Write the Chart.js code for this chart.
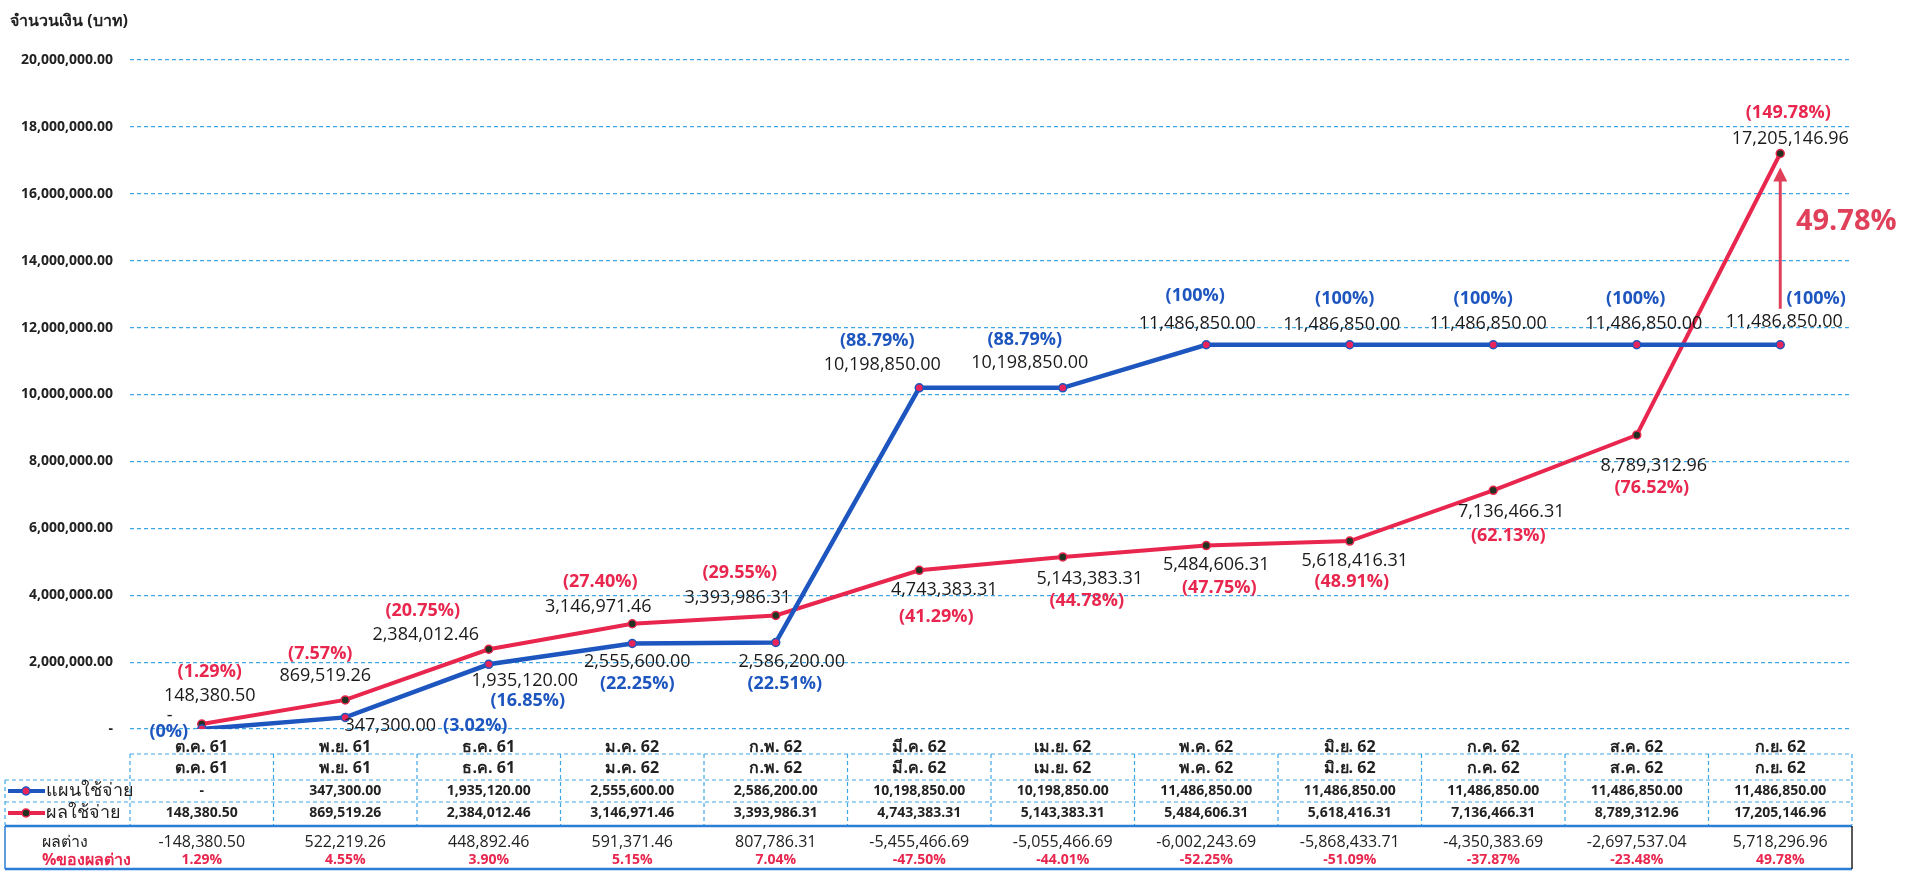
<!DOCTYPE html>
<html>
<head>
<meta charset="utf-8">
<script src="https://cdn.jsdelivr.net/npm/chart.js@4.4.1/dist/chart.umd.min.js"></script>
<style>
html,body{margin:0;padding:0;background:#fff;}
#wrap{width:1914px;height:879px;position:relative;}
</style>
</head>
<body>
<div id="wrap"><canvas id="c" width="1914" height="879"></canvas></div>
<script>
// ---------- data ----------
const categories = ['ต.ค. 61','พ.ย. 61','ธ.ค. 61','ม.ค. 62','ก.พ. 62','มี.ค. 62','เม.ย. 62','พ.ค. 62','มิ.ย. 62','ก.ค. 62','ส.ค. 62','ก.ย. 62'];
const planValues = [0, 347300.00, 1935120.00, 2555600.00, 2586200.00, 10198850.00, 10198850.00, 11486850.00, 11486850.00, 11486850.00, 11486850.00, 11486850.00];
const actualValues = [148380.50, 869519.26, 2384012.46, 3146971.46, 3393986.31, 4743383.31, 5143383.31, 5484606.31, 5618416.31, 7136466.31, 8789312.96, 17205146.96];
const planPctLabels = ['(0%)','(3.02%)','(16.85%)','(22.25%)','(22.51%)','(88.79%)','(88.79%)','(100%)','(100%)','(100%)','(100%)','(100%)'];
const actualPctLabels = ['(1.29%)','(7.57%)','(20.75%)','(27.40%)','(29.55%)','(41.29%)','(44.78%)','(47.75%)','(48.91%)','(62.13%)','(76.52%)','(149.78%)'];
const diffValues = [-148380.50, 522219.26, 448892.46, 591371.46, 807786.31, -5455466.69, -5055466.69, -6002243.69, -5868433.71, -4350383.69, -2697537.04, 5718296.96];
const diffPctLabels = ['1.29%','4.55%','3.90%','5.15%','7.04%','-47.50%','-44.01%','-52.25%','-51.09%','-37.87%','-23.48%','49.78%'];
const yTicks = [0, 2000000, 4000000, 6000000, 8000000, 10000000, 12000000, 14000000, 16000000, 18000000, 20000000];
const seriesNames = ['แผนใช้จ่าย','ผลใช้จ่าย'];
const rowLabels = ['ผลต่าง','%ของผลต่าง'];
const axisTitle = 'จำนวนเงิน (บาท)';

// ---------- label placement (pixel offsets from each point) ----------
const planValOff = [[-32,-13],[45,8],[36,17],[5,18],[16,19],[-37,-23],[-33,-25],[-9,-21],[-8,-20],[-5,-21],[7,-21],[4,-23]];
const planPctOff = [[-33,3],[130,8],[39,37],[5,40],[9,41],[-42,-47],[-38,-48],[-11,-49],[-5,-46],[-10,-46],[-1,-46],[36,-46]];
const actValOff = [[8,-28],[-20,-24],[-63,-14],[-34,-17],[-38,-18],[25,20],[27,22],[10,19],[5,20],[18,22],[17,31],[10,-15]];
const actPctOff = [[8,-52],[-25,-46],[-66,-38],[-32,-42],[-36,-43],[17,47],[24,44],[13,42],[2,41],[15,46],[15,53],[8,-41]];

const FONT = '"Open Sans","Noto Sans",sans-serif';
const BLUE = '#1E56C0';
const RED = '#E8264E';
const GRID = '#3FA6E6';

function fmt(v){
  if (v === 0) return '-';
  return v.toLocaleString('en-US',{minimumFractionDigits:2, maximumFractionDigits:2});
}

const drawPlugin = {
  id:'extras',
  beforeDraw(chart){
    const ctx = chart.ctx;
    ctx.save();
    ctx.fillStyle = '#fff';
    ctx.fillRect(0,0,chart.width,chart.height);
    ctx.restore();
  },
  afterDatasetsDraw(chart){
    const ctx = chart.ctx;
    const xs = chart.scales.x, ys = chart.scales.y;
    const ca = chart.chartArea;
    ctx.save();
    ctx.textAlign = 'center';
    ctx.textBaseline = 'middle';

    // axis title
    ctx.font = 'bold 16px ' + FONT;
    ctx.fillStyle = '#222';
    ctx.textAlign = 'left';
    ctx.fillText(axisTitle, 10, 21);
    ctx.textAlign = 'center';

    // data labels
    for (let i = 0; i < categories.length; i++){
      const px = xs.getPixelForValue(i);
      const pyP = ys.getPixelForValue(planValues[i]);
      const pyA = ys.getPixelForValue(actualValues[i]);
      ctx.font = '18px ' + FONT;
      ctx.fillStyle = '#1a1a1a';
      ctx.fillText(fmt(planValues[i]), px + planValOff[i][0], pyP + planValOff[i][1]);
      ctx.fillText(fmt(actualValues[i]), px + actValOff[i][0], pyA + actValOff[i][1]);
      ctx.font = 'bold 18px ' + FONT;
      ctx.fillStyle = BLUE;
      ctx.fillText(planPctLabels[i], px + planPctOff[i][0], pyP + planPctOff[i][1]);
      ctx.fillStyle = RED;
      ctx.fillText(actualPctLabels[i], px + actPctOff[i][0], pyA + actPctOff[i][1]);
    }

    // arrow on last category
    const li = categories.length - 1;
    const ax = xs.getPixelForValue(li);
    const yFrom = ys.getPixelForValue(planValues[li]) - 36;
    const yTo = ys.getPixelForValue(actualValues[li]) + 14;
    ctx.strokeStyle = '#E0405A';
    ctx.fillStyle = '#E0405A';
    ctx.lineWidth = 3;
    ctx.beginPath();
    ctx.moveTo(ax, yFrom);
    ctx.lineTo(ax, yTo + 12);
    ctx.stroke();
    ctx.beginPath();
    ctx.moveTo(ax, yTo);
    ctx.lineTo(ax - 7, yTo + 14);
    ctx.lineTo(ax + 7, yTo + 14);
    ctx.closePath();
    ctx.fill();
    ctx.font = 'bold 29px ' + FONT;
    ctx.fillText(diffPctLabels[li], ax + 66, (yFrom + yTo) / 2 - 16);

    // ---------- data table ----------
    const colW = xs.width / categories.length;
    const b = ca.bottom;
    const left = 5, right = ca.right;
    ctx.setLineDash([4,3]);
    ctx.strokeStyle = GRID;
    ctx.lineWidth = 1.2;
    const hl = (y, x0) => { ctx.beginPath(); ctx.moveTo(x0, y); ctx.lineTo(right, y); ctx.stroke(); };
    hl(b + 25, ca.left);
    hl(b + 51, left);
    hl(b + 73, left);
    for (let i = 0; i <= categories.length; i++){
      const x = ca.left + i * colW;
      ctx.beginPath(); ctx.moveTo(x, b + 25); ctx.lineTo(x, b + 96); ctx.stroke();
    }
    ctx.beginPath(); ctx.moveTo(left, b + 51); ctx.lineTo(left, b + 96); ctx.stroke();
    ctx.setLineDash([]);
    // box
    ctx.lineWidth = 2.5;
    ctx.strokeStyle = '#2B7ED6';
    ctx.beginPath(); ctx.moveTo(left, b + 97); ctx.lineTo(right, b + 97); ctx.stroke();
    ctx.beginPath(); ctx.moveTo(left, b + 140); ctx.lineTo(right, b + 140); ctx.stroke();
    ctx.lineWidth = 1.5;
    ctx.beginPath(); ctx.moveTo(left, b + 97); ctx.lineTo(left, b + 140); ctx.stroke();
    ctx.strokeStyle = '#222';
    ctx.beginPath(); ctx.moveTo(right, b + 97); ctx.lineTo(right, b + 140); ctx.stroke();

    // header + values
    for (let i = 0; i < categories.length; i++){
      const cx = xs.getPixelForValue(i);
      ctx.fillStyle = '#222';
      ctx.font = 'bold 16px ' + FONT;
      ctx.fillText(categories[i], cx, b + 39);
      ctx.font = 'bold 14px ' + FONT;
      ctx.fillText(fmt(planValues[i]), cx, b + 62);
      ctx.fillText(fmt(actualValues[i]), cx, b + 84);
      ctx.font = '16px ' + FONT;
      ctx.fillText(fmt(diffValues[i]), cx, b + 113);
      ctx.font = 'bold 14px ' + FONT;
      ctx.fillStyle = RED;
      ctx.fillText(diffPctLabels[i], cx, b + 131);
    }

    // legend keys
    const keys = [[BLUE, '#E8245A', b + 62], [RED, '#233323', b + 84]];
    keys.forEach((k, j) => {
      ctx.strokeStyle = k[0];
      ctx.lineWidth = 4;
      ctx.beginPath(); ctx.moveTo(8, k[2]); ctx.lineTo(45, k[2]); ctx.stroke();
      ctx.beginPath(); ctx.arc(26, k[2], 4, 0, Math.PI * 2);
      ctx.fillStyle = k[1]; ctx.fill();
      ctx.lineWidth = 1.5; ctx.stroke();
      ctx.fillStyle = '#222';
      ctx.font = '18px ' + FONT;
      ctx.textAlign = 'left';
      ctx.fillText(seriesNames[j], 46, k[2]);
      ctx.textAlign = 'center';
    });
    ctx.textAlign = 'left';
    ctx.fillStyle = '#222';
    ctx.font = '16px ' + FONT;
    ctx.fillText(rowLabels[0], 42, b + 113);
    ctx.fillStyle = RED;
    ctx.font = 'bold 16px ' + FONT;
    ctx.fillText(rowLabels[1], 42, b + 131);
    ctx.restore();
  }
};

new Chart(document.getElementById('c'), {
  type: 'line',
  data: {
    labels: categories,
    datasets: [
      { label: seriesNames[0], data: planValues, borderColor: BLUE, borderWidth: 4.5,
        pointRadius: 4, pointBackgroundColor: '#E8245A', pointBorderColor: BLUE, pointBorderWidth: 1.5,
        tension: 0, fill: false },
      { label: seriesNames[1], data: actualValues, borderColor: RED, borderWidth: 4,
        pointRadius: 4, pointBackgroundColor: '#233323', pointBorderColor: RED, pointBorderWidth: 1.5,
        tension: 0, fill: false }
    ]
  },
  options: {
    responsive: false,
    animation: false,
    devicePixelRatio: 1,
    layout: { padding: { top: 60, right: 62, left: 0, bottom: 0 } },
    plugins: { legend: { display: false }, tooltip: { enabled: false } },
    scales: {
      x: {
        offset: true,
        grid: { display: false },
        border: { display: false },
        ticks: { color: '#222', font: { family: FONT, size: 16, weight: 'bold' }, padding: 1, maxRotation: 0, autoSkip: false },
        afterFit(s){ s.height = 150; }
      },
      y: {
        min: 0, max: 20000000,
        afterBuildTicks(s){ s.ticks = yTicks.map(v => ({ value: v })); },
        grid: { color: GRID, lineWidth: 1.2, drawTicks: false },
        border: { display: false, dash: [4,3] },
        ticks: { color: '#222', font: { family: FONT, size: 14, weight: 'bold' }, padding: 17,
          callback: v => fmt(v) },
        afterFit(s){ s.width = 130; }
      }
    }
  },
  plugins: [drawPlugin]
});
</script>
</body>
</html>
